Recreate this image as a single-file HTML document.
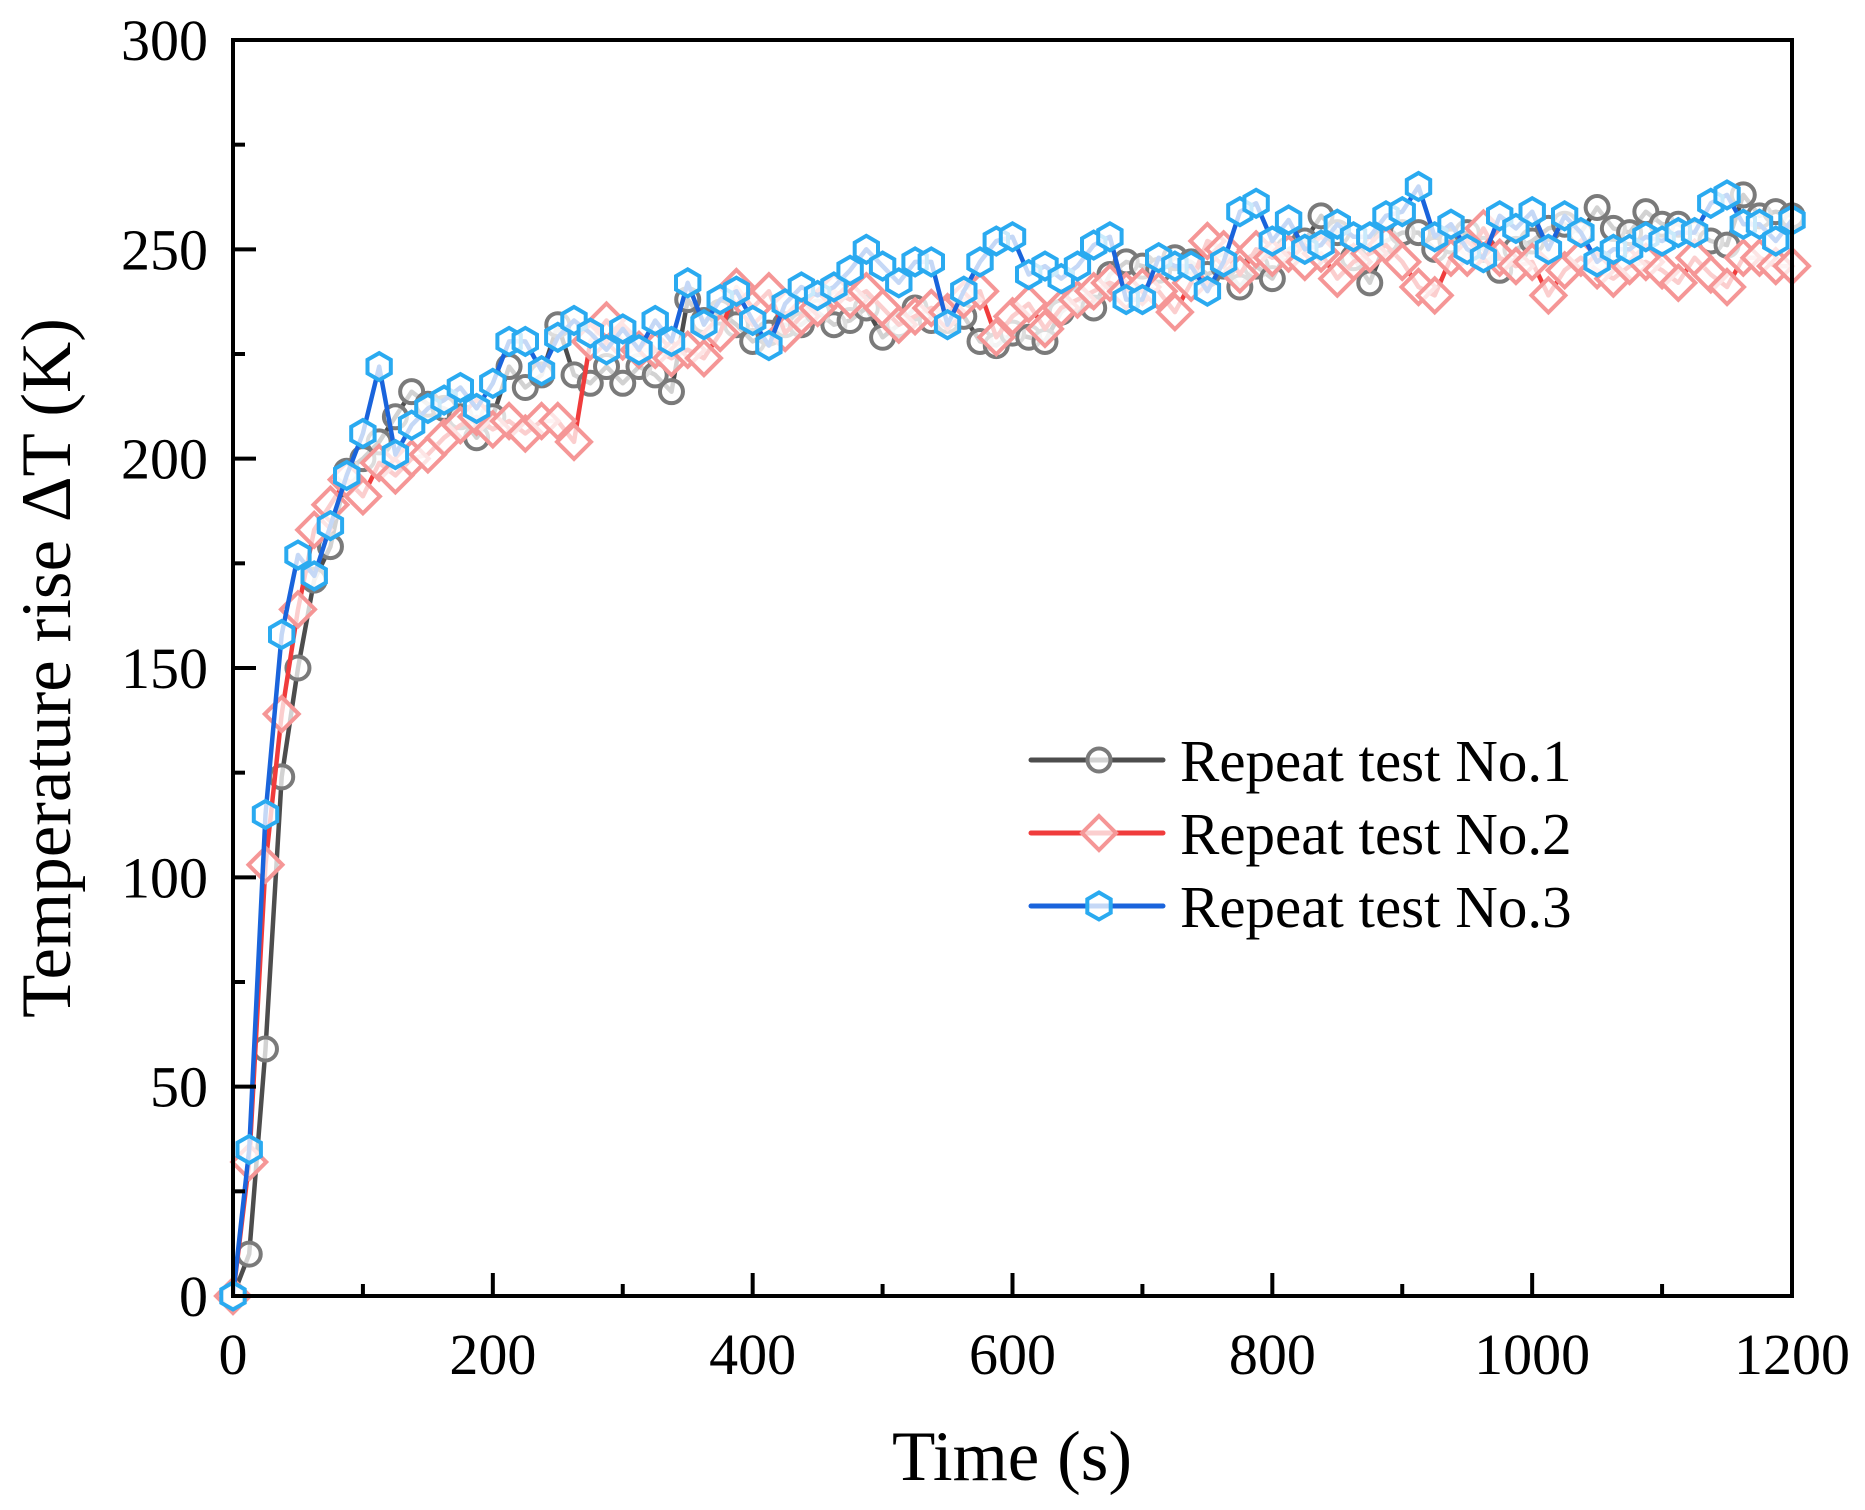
<!DOCTYPE html>
<html><head><meta charset="utf-8"><style>
html,body{margin:0;padding:0;background:#fff;}
svg{display:block;font-family:"Liberation Serif","DejaVu Serif",serif;}
</style></head><body>
<svg id="chart" width="1865" height="1510" viewBox="0 0 1865 1510" xmlns="http://www.w3.org/2000/svg">
<rect width="1865" height="1510" fill="#fff"/>
<g id="series"></g>
<g id="axes"></g>
<g id="legend"></g>
<text x="1012" y="1480" font-size="71" text-anchor="middle">Time (s)</text>
<text transform="translate(70,668) rotate(-90)" font-size="71" text-anchor="middle">Temperature rise ΔT (K)</text>
</svg>
<script>
const xStep = 12.5;
const xTicks = [0,200,400,600,800,1000,1200];
const yTicks = [0,50,100,150,200,250,300];
const seriesNames = ["Repeat test No.1","Repeat test No.2","Repeat test No.3"];
const test1 = [0,10,59,124,150,171,179,197,200,204,210,216,213,212,210,205,210,222,217,220,232,220,218,222,218,222,220,216,238,233,235,232,228,230,232,232,235,232,233,236,229,232,236,233,233,234,228,227,230,229,228,235,238,236,244,247,246,245,248,247,244,246,241,246,243,250,252,258,254,248,242,252,254,254,250,252,254,250,245,250,252,255,256,254,260,255,254,259,256,256,254,252,251,263,258,259,258];
const test2 = [0,32,103,139,164,183,189,195,191,199,196,200,201,205,208,210,207,209,206,209,209,204,228,233,228,226,226,224,226,224,230,241,236,240,230,234,236,240,238,240,236,232,234,236,235,238,240,229,234,237,231,236,238,240,242,240,241,240,235,242,252,250,244,250,248,249,247,249,243,247,249,251,247,241,239,248,248,255,248,246,247,239,245,248,245,243,246,247,245,242,248,244,241,248,248,246,246];
const test3 = [0,35,115,158,177,172,184,196,206,222,201,208,212,214,217,212,218,228,228,221,229,233,230,226,231,226,233,228,242,232,238,240,233,227,237,241,239,241,245,250,246,242,247,247,232,240,247,252,253,244,246,243,246,251,253,238,238,248,246,246,240,247,259,261,252,257,250,251,256,253,253,258,259,265,253,256,250,248,258,255,259,250,258,254,247,250,250,253,252,254,254,261,263,256,256,252,257];

const NS="http://www.w3.org/2000/svg";
const X0=233,X1=1792,Y0=1296,Y1=40;
const xs=v=>X0+(v/1200)*(X1-X0);
const ys=v=>Y0-(v/300)*(Y0-Y1);
function mk(tag,attrs,parent){const e=document.createElementNS(NS,tag);for(const k in attrs)e.setAttribute(k,attrs[k]);parent.appendChild(e);return e;}

const styles=[
 {line:"#4d4d4d",mk:"#7a7a7a",shape:"circle"},
 {line:"#f03c3c",mk:"#f59696",shape:"diamond"},
 {line:"#1a64dc",mk:"#2aaaf0",shape:"hex"}];
function marker(shape,cx,cy,col,parent){
  let e;
  if(shape==="circle"){e=mk("circle",{cx:cx,cy:cy,r:11.5},parent);}
  else if(shape==="diamond"){const r=17;e=mk("polygon",{points:`${cx},${cy-r} ${cx+r},${cy} ${cx},${cy+r} ${cx-r},${cy}`},parent);}
  else {const r=13.5;let p=[];for(let i=0;i<6;i++){const a=Math.PI/6+i*Math.PI/3;p.push((cx+r*Math.cos(a)).toFixed(1)+","+(cy+r*Math.sin(a)).toFixed(1));}e=mk("polygon",{points:p.join(" ")},parent);}
  e.setAttribute("fill","rgba(255,255,255,0.75)");e.setAttribute("stroke",col);e.setAttribute("stroke-width","4");
  return e;
}
const sg=document.getElementById("series");
[test1,test2,test3].forEach((data,si)=>{
  const g=mk("g",{},sg);
  
  
  const pts=data.map((v,i)=>xs(i*xStep).toFixed(1)+","+ys(v).toFixed(1)).join(" ");
  const pl=mk("polyline",{points:pts,fill:"none",stroke:styles[si].line,"stroke-width":4.5,"stroke-linejoin":"round"},g);
  
  
  data.forEach((v,i)=>{const m=marker(styles[si].shape,xs(i*xStep),ys(v),styles[si].mk,g);
    
    });
});

const ax=document.getElementById("axes");
const frame=mk("rect",{x:X0,y:Y1,width:X1-X0,height:Y0-Y1,fill:"none",stroke:"#000","stroke-width":4},ax);


for(let v=0;v<=1200;v+=100){const maj=v%200===0;
  const t=mk("line",{x1:xs(v),x2:xs(v),y1:Y0,y2:Y0-(maj?23:12),stroke:"#000","stroke-width":4},ax);
  
  }
xTicks.forEach(v=>{const t=mk("text",{x:xs(v),y:1374,"font-size":58,"text-anchor":"middle"},ax);t.textContent=v;
  
  });
for(let v=0;v<=300;v+=25){const maj=v%50===0;
  const t=mk("line",{x1:X0,x2:X0+(maj?23:12),y1:ys(v),y2:ys(v),stroke:"#000","stroke-width":4},ax);
  
  }
yTicks.forEach(v=>{const t=mk("text",{x:208,y:ys(v)+20,"font-size":58,"text-anchor":"end"},ax);t.textContent=v;
  
  });

const lg=document.getElementById("legend");
const rowY=[760,833,906];
seriesNames.forEach((n,i)=>{
  const g=mk("g",{},lg);
  
  
  mk("line",{x1:1031,x2:1163,y1:rowY[i],y2:rowY[i],stroke:styles[i].line,"stroke-width":5,"stroke-linecap":"round"},g);
  marker(styles[i].shape,1099,rowY[i],styles[i].mk,g);
  const t=mk("text",{x:1180,y:rowY[i]+21,"font-size":59},g);t.textContent=n;
});
</script>
</body></html>
